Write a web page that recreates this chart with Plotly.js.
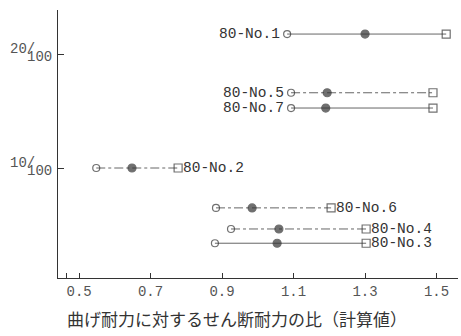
<!DOCTYPE html>
<html><head><meta charset="utf-8">
<script src="https://cdn.plot.ly/plotly-3.0.1.min.js"></script>
<style>body{margin:0;background:#fff}#c{width:461px;height:336px}</style>
</head><body><div id="c"></div>
<script>
const specimens = ['80-No.1','80-No.5','80-No.7','80-No.2','80-No.6','80-No.4','80-No.3'];
const yValues   = [0.2175, 0.166, 0.1526, 0.100, 0.065, 0.0465, 0.034];
const openVals  = [1.082, 1.093, 1.093, 0.548, 0.883, 0.925, 0.880];
const filledVals= [1.300, 1.194, 1.190, 0.648, 0.984, 1.059, 1.054];
const squareVals= [1.527, 1.490, 1.490, 0.777, 1.205, 1.303, 1.303];
const labelSide = ['left','left','left','right','right','right','right'];
const dashes    = ['solid','dashdot','solid','dashdot','dashdot','dashdot','solid'];
const xTickVals = [0.464, 0.5, 0.7, 0.9, 1.1, 1.3, 1.5];
const xTickText = ['', '0.5','0.7','0.9','1.1','1.3','1.5'];
const yTickVals = [0.1, 0.2];
const yTickNum  = ['10','20'];
const yTickDen  = ['100','100'];
const xTitle = '曲げ耐力に対するせん断耐力の比（計算値）';

const ink = '#333';
const mono = 'Liberation Mono, DejaVu Sans Mono, monospace';
const traces = specimens.map((s,i)=>({
  x:[openVals[i], filledVals[i], squareVals[i]],
  y:[yValues[i], yValues[i], yValues[i]],
  mode:'lines+markers', type:'scatter', showlegend:false, hoverinfo:'skip',
  line:{color:'#666', width:1, dash:dashes[i]},
  marker:{symbol:['circle-open','circle','square-open'], size:[7,8,8], color:ink, line:{color:ink,width:1.2}}
}));
const annotations = specimens.map((s,i)=>({
  x: labelSide[i]==='left' ? openVals[i] : squareVals[i],
  y: yValues[i], text:s, showarrow:false,
  xanchor: labelSide[i]==='left' ? 'right' : 'left',
  xshift: labelSide[i]==='left' ? -5 : 3, yanchor:'middle',
  font:{family:mono, size:14.5, color:ink}
}));
yTickVals.forEach((v,i)=>{
  annotations.push({xref:'paper', x:0, y:v, text:yTickDen[i], showarrow:false, xanchor:'right', yanchor:'middle',
    xshift:-4, yshift:-3, font:{family:mono, size:14, color:'#555'}});
  annotations.push({xref:'paper', x:0, y:v, text:yTickNum[i] + '/', showarrow:false, xanchor:'right', yanchor:'middle',
    xshift:-21, yshift:5, font:{family:mono, size:14, color:'#555'}});
});
annotations.push({xref:'paper', yref:'paper', x:0.4475, y:0, yshift:-40, text:xTitle, showarrow:false,
  xanchor:'center', yanchor:'middle', font:{family:'Noto Sans CJK JP, sans-serif', size:17, color:ink}});
const layout = {
  width:461, height:336,
  margin:{l:58, r:3, t:10, b:58},
  paper_bgcolor:'#fff', plot_bgcolor:'#fff',
  font:{family:mono, color:ink},
  xaxis:{range:[0.441,1.56], tickvals:xTickVals, ticktext:xTickText, ticks:'inside', ticklen:5,
    tickcolor:ink, showgrid:false, zeroline:false, showline:true, linecolor:ink, linewidth:1.2,
    tickfont:{family:mono, size:14, color:'#555'}},
  yaxis:{range:[0.0035,0.2386], tickvals:yTickVals, showticklabels:false, ticks:'inside', ticklen:6,
    tickcolor:ink, showgrid:false, zeroline:false, showline:true, linecolor:ink, linewidth:1.2},
  annotations:annotations
};
Plotly.newPlot('c', traces, layout, {staticPlot:true, displayModeBar:false});
</script></body></html>
